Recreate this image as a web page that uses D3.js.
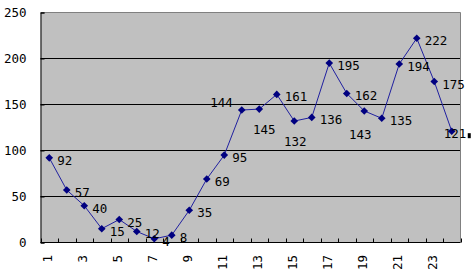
<!DOCTYPE html>
<html><head><meta charset="utf-8">
<script src="https://cdn.jsdelivr.net/npm/d3@7"></script>
<style>
html,body{margin:0;padding:0;background:#fff;}
svg{display:block;}
text{font-family:"DejaVu Sans Mono","Liberation Mono",monospace;font-size:12.5px;fill:#000;}
</style></head>
<body>
<svg id="chart" width="471" height="273"></svg>
<script>
const categories = d3.range(1, 25);
const values = [92,57,40,15,25,12,4,8,35,69,95,144,145,161,132,136,195,162,143,135,194,222,175,121];
const yTicks = [0,50,100,150,200,250];
const xTickLabels = [1,3,5,7,9,11,13,15,17,19,21,23];
// label placements (layout, not data)
const labelPlace = {12:"aboveLeft",13:"below",15:"below",19:"below",24:"overlap"};

const svg = d3.select("#chart");
const L = 40.5, R = 460.5, T = 12.5, B = 242.5;
const x = d3.scaleBand().domain(categories).range([L, R]);
const y = d3.scaleLinear().domain([0, 250]).range([B, T]);
const cx = d => x(d) + x.bandwidth()/2;

// plot background
svg.append("rect").attr("x", L).attr("y", T).attr("width", R-L).attr("height", B-T)
  .attr("fill", "#C0C0C0");

// gridlines
svg.append("g").selectAll("line").data(yTicks.filter(v => v > 0 && v < 250)).join("line")
  .attr("x1", L).attr("x2", R).attr("y1", d => y(d)).attr("y2", d => y(d))
  .attr("stroke", "#000").attr("stroke-width", 1);

// top and right border (gray)
svg.append("path").attr("d", `M${L},${T}H${R}V${B}`).attr("fill","none")
  .attr("stroke", "#808080").attr("stroke-width", 1);

// y axis
const yAxis = d3.axisLeft(y).tickValues(yTicks).tickSize(-4).tickPadding(14).tickFormat(d3.format("d"));
const gy = svg.append("g").attr("transform", `translate(${L},0)`).call(yAxis);
gy.select(".domain").attr("stroke", "#000");
gy.selectAll(".tick line").attr("stroke", "#000");
gy.selectAll(".tick text").style("font-family", '"DejaVu Sans Mono",monospace').style("font-size","12.5px").attr("fill","#000");

// x axis: ticks at category boundaries (inside), labels every other category
const bounds = d3.range(0, categories.length + 1).map(i => L + i * x.step());
svg.append("line").attr("x1", L).attr("x2", R).attr("y1", B).attr("y2", B)
  .attr("stroke", "#000");
svg.append("g").selectAll("line").data(bounds).join("line")
  .attr("x1", d => Math.round(d) + 0.5).attr("x2", d => Math.round(d) + 0.5)
  .attr("y1", B).attr("y2", B - 4).attr("stroke", "#000");
svg.append("g").selectAll("text").data(xTickLabels).join("text")
  .attr("transform", d => `translate(${cx(d) - 2},255) rotate(-90)`)
  .attr("text-anchor", "end").attr("dominant-baseline", "central")
  .text(d => d);

// line
const data = categories.map((c, i) => ({c, v: values[i]}));
svg.append("path").datum(data)
  .attr("d", d3.line().x(d => cx(d.c)).y(d => y(d.v)))
  .attr("fill", "none").attr("stroke", "#2020a0").attr("stroke-width", 1);

// markers
svg.append("g").selectAll("path").data(data).join("path")
  .attr("transform", d => `translate(${cx(d.c)},${y(d.v)})`)
  .attr("d", "M0,-3.8L3.8,0L0,3.8L-3.8,0Z")
  .attr("fill", "#000080");

// data labels
const lbl = svg.append("g").selectAll("text").data(data).join("text")
  .attr("dominant-baseline", "central")
  .each(function(d) {
    const p = labelPlace[d.c];
    const px = cx(d.c), py = y(d.v);
    const t = d3.select(this);
    if (p === "aboveLeft") t.attr("x", px - 9).attr("y", py - 8).attr("text-anchor", "end");
    else if (p === "below") t.attr("x", px + (d.c === 19 ? -4 : d.c === 13 ? 5 : 1)).attr("y", py + (d.c === 19 ? 24 : 20)).attr("text-anchor", "middle");
    else if (p === "overlap") t.attr("x", px - 8).attr("y", py + 2).attr("text-anchor", "start");
    else t.attr("x", px + 8).attr("y", py + 2.5).attr("text-anchor", "start");
  })
  .text(d => d.v);

// small selection handle after last label
const last = data[data.length - 1];
svg.append("rect").attr("x", cx(last.c) + 16).attr("y", y(last.v) + 2).attr("width", 3).attr("height", 5).attr("fill", "#000");
</script>
</body></html>
